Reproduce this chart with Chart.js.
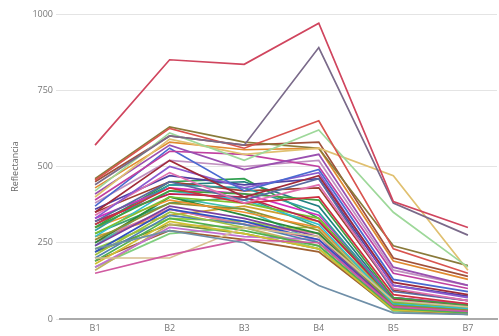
<!DOCTYPE html>
<html>
<head>
<meta charset="utf-8">
<script src="https://cdn.jsdelivr.net/npm/chart.js@4"></script>
<style>
html,body{margin:0;padding:0;background:#fff;}
#wrap{width:499px;height:336px;}
</style>
</head>
<body>
<div id="wrap"><canvas id="c" width="499" height="336"></canvas></div>
<script>
const categories = ["B1", "B2", "B3", "B4", "B5", "B7"];
const yTicks = [0, 250, 500, 750, 1000];
const yTitle = "Reflectancia";

// one row per sample: values at B1, B2, B3, B4, B5, B7
const seriesValues = [
  [570, 850, 835, 970, 385, 300],
  [440, 600, 570, 890, 380, 275],
  [455, 625, 560, 650, 230, 150],
  [420, 610, 520, 620, 350, 170],
  [400, 590, 540, 560, 470, 160],
  [230, 290, 250, 110, 20, 15],
  [150, 210, 260, 250, 40, 25],
  [200, 200, 300, 270, 60, 40],
  [460, 630, 580, 560, 240, 175],
  [450, 600, 570, 580, 200, 140],
  [430, 580, 555, 560, 190, 130],
  [410, 570, 490, 540, 170, 110],
  [390, 550, 540, 500, 150, 100],
  [370, 560, 420, 490, 130, 90],
  [350, 520, 400, 470, 120, 80],
  [330, 500, 430, 480, 110, 70],
  [340, 480, 380, 440, 100, 60],
  [320, 450, 390, 460, 90, 60],
  [310, 430, 380, 400, 80, 50],
  [300, 420, 410, 390, 70, 45],
  [290, 440, 430, 350, 60, 40],
  [320, 410, 400, 320, 65, 45],
  [280, 400, 380, 330, 55, 40],
  [270, 420, 390, 310, 50, 35],
  [300, 390, 350, 300, 60, 35],
  [260, 380, 360, 290, 45, 30],
  [250, 400, 340, 280, 50, 30],
  [240, 370, 330, 270, 40, 30],
  [330, 430, 410, 340, 70, 50],
  [220, 360, 320, 260, 45, 25],
  [210, 350, 300, 300, 55, 35],
  [200, 340, 310, 250, 40, 25],
  [190, 330, 290, 240, 35, 20],
  [180, 320, 280, 230, 30, 20],
  [170, 300, 270, 260, 40, 25],
  [160, 310, 300, 240, 30, 20],
  [350, 450, 420, 430, 95, 60],
  [360, 470, 440, 460, 110, 75],
  [280, 380, 400, 300, 55, 35],
  [260, 360, 310, 280, 50, 30],
  [240, 400, 360, 250, 45, 30],
  [230, 330, 320, 280, 40, 25],
  [300, 450, 460, 330, 70, 45],
  [310, 440, 450, 370, 65, 45],
  [190, 290, 260, 220, 30, 15],
  [170, 280, 300, 230, 25, 15],
  [380, 520, 500, 520, 160, 110],
  [250, 360, 310, 260, 35, 20],
  [220, 310, 280, 230, 30, 20],
  [270, 340, 370, 320, 60, 40]
];

const seriesColors = [
  "#d0455e", "#7a6a8a", "#d9544f", "#9ed89a", "#e0c070", "#6f8fa8", "#d05aa0", "#d8c090",
  "#8a7a3a", "#a0503a", "#e08a30", "#9a50b0", "#c040a0", "#4a6ad0", "#a02a3a", "#8a5ad0",
  "#e070b0", "#5a6aa0", "#d03040", "#40a040", "#30a0a0", "#c02050", "#80c030", "#30c0d0",
  "#f09030", "#909030", "#2a8a3a", "#7a40a0", "#d030c0", "#3050c0", "#a0c040", "#5080b0",
  "#50b050", "#d0c030", "#c070d0", "#c0b060", "#a04030", "#5040a0", "#40a070", "#e080a0",
  "#40c0b0", "#90d040", "#30a050", "#208080", "#a06030", "#80d080", "#c090c0", "#e06080",
  "#70903a", "#d0a030"
];

const datasets = seriesValues.map((vals, i) => ({
  data: vals.map((v, j) => ({ x: j, y: v })),
  borderColor: seriesColors[i % seriesColors.length],
  backgroundColor: seriesColors[i % seriesColors.length],
  borderWidth: 1.7,
  pointRadius: 0,
  fill: false,
  tension: 0
}));

Chart.defaults.font.family = "'Open Sans', 'Liberation Sans', sans-serif";

new Chart(document.getElementById('c'), {
  type: 'line',
  data: { datasets },
  options: {
    responsive: false,
    animation: false,
    layout: { padding: { top: 14, right: 2, bottom: 0, left: 0 } },
    plugins: { legend: { display: false }, tooltip: { enabled: false } },
    scales: {
      x: {
        type: 'linear',
        min: -0.47,
        max: 5.39,
        afterBuildTicks: (scale) => { scale.ticks = categories.map((c, i) => ({ value: i })); },
        ticks: {
          callback: (v) => categories[v],
          font: { size: 9 },
          color: '#777',
          padding: 4,
          maxRotation: 0,
          autoSkip: false
        },
        grid: { display: false, drawTicks: false },
        border: { display: true, color: '#aaa', width: 2 },
        afterFit: (scale) => { scale.height = 17; }
      },
      y: {
        min: 0,
        max: 1000,
        afterBuildTicks: (scale) => { scale.ticks = yTicks.map(v => ({ value: v })); },
        ticks: { font: { size: 9 }, color: '#777', padding: 3, callback: (v) => String(v) },
        grid: { color: '#e4e4e4', tickLength: 4, lineWidth: 1 },
        border: { display: false },
        title: { display: true, text: yTitle, font: { size: 9 }, color: '#666', padding: { top: 10, bottom: 4 } },
        afterFit: (scale) => { scale.width = 60; }
      }
    }
  }
});
</script>
</body>
</html>
